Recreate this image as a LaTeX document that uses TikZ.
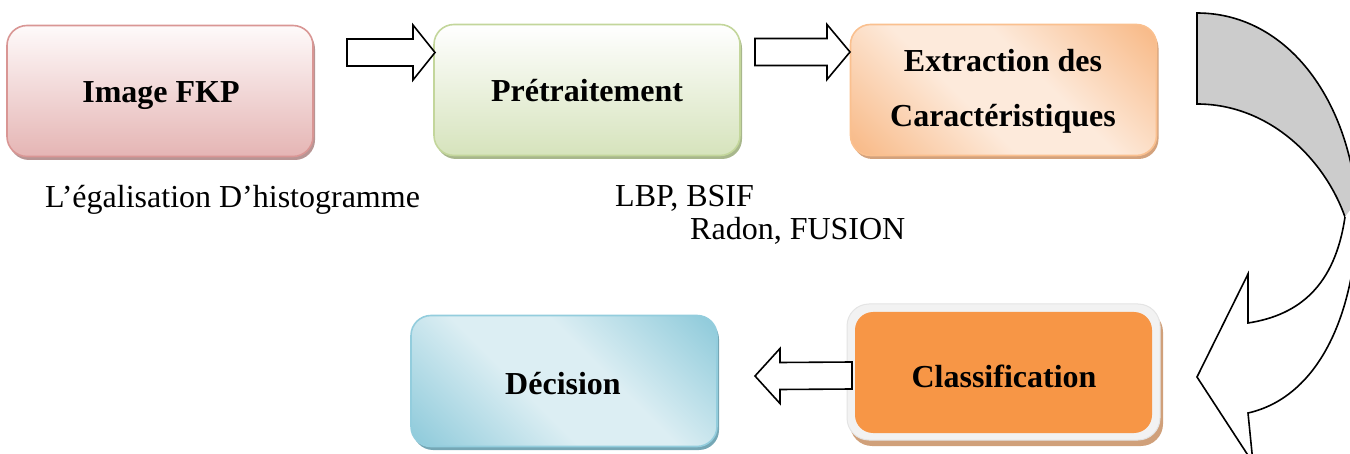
\documentclass[tikz,border=0pt]{standalone}
\usepackage{fontspec}
\setmainfont{Liberation Serif}
\usetikzlibrary{shadows,calc}
\definecolor{pinkB}{HTML}{D99694}
\definecolor{pinkT}{HTML}{FEFAFA}
\definecolor{pinkD}{HTML}{E5B5B4}
\definecolor{pinkS}{HTML}{B89594}
\definecolor{grnB}{HTML}{C3D69B}
\definecolor{grnT}{HTML}{FFFFFF}
\definecolor{grnD}{HTML}{D6E3BC}
\definecolor{grnS}{HTML}{A8B78C}
\definecolor{orgB}{HTML}{FAC08F}
\definecolor{orgC}{HTML}{F8BA88}
\definecolor{orgM}{HTML}{FDEADB}
\definecolor{orgS}{HTML}{D3A27D}
\definecolor{bluB}{HTML}{93CDDD}
\definecolor{bluC}{HTML}{90CBDB}
\definecolor{bluM}{HTML}{DCEEF3}
\definecolor{bluS}{HTML}{75A7B5}
\definecolor{clsF}{HTML}{F79646}
\definecolor{clsR}{HTML}{F2F2F2}
\definecolor{clsE}{HTML}{E4E4E4}
\definecolor{clsS}{HTML}{D0A07A}
\definecolor{grayA}{HTML}{CCCCCC}
\pgfdeclareverticalshading{diagorg}{100bp}{color(0bp)=(orgC); color(33bp)=(orgC); color(46bp)=(orgM); color(54bp)=(orgM); color(67bp)=(orgC); color(100bp)=(orgC)}
\pgfdeclareverticalshading{diagblu}{100bp}{color(0bp)=(bluC); color(33bp)=(bluC); color(46bp)=(bluM); color(54bp)=(bluM); color(67bp)=(bluC); color(100bp)=(bluC)}
\begin{document}
\begin{tikzpicture}[x=1pt,y=-1pt,
  box/.style={rounded corners=20pt, minimum width=306pt, minimum height=131pt, line width=1.6pt, inner sep=0pt},
  shad/.style={drop shadow={shadow xshift=2pt, shadow yshift=-3.5pt, fill=#1, opacity=1}},
  diagfill/.style={path picture={\shade[shading=#1, shading angle=-45]
      ($(path picture bounding box.center)+(-218,-218)$) rectangle ++(436,436);}},
  lbl/.style={font=\fontsize{32}{38}\selectfont\bfseries, anchor=base, inner sep=0pt},
  note/.style={font=\fontsize{32}{38}\selectfont, anchor=base west, inner sep=0pt},
  blk/.style={draw=black, fill=white, line width=1.6pt, line join=miter},
  curv/.style={draw=black, line width=1.6pt, line join=miter}]
\useasboundingbox (0,0) rectangle (1350,454);

% boxes
\node[box, draw=pinkB, top color=pinkT, bottom color=pinkD, shad=pinkS] (b1) at (160,91) {};
\node[box, draw=grnB, top color=grnT, bottom color=grnD, shad=grnS] (b2) at (587,90) {};
\node[box, draw=orgB, fill=orgM, diagfill=diagorg, shad=orgS] (b3) at (1003.5,90) {};
\node[box, draw=bluB, fill=bluM, diagfill=diagblu, shad=bluS] (b4) at (564,381) {};
\node[rounded corners=22pt, minimum width=313pt, minimum height=136pt, inner sep=0pt, draw=clsE, line width=1pt, fill=clsR,
  drop shadow={shadow xshift=3pt, shadow yshift=-6pt, fill=clsS, opacity=1}] (b5f) at (1003.5,372) {};
\node[rounded corners=18pt, minimum width=297pt, minimum height=121pt, inner sep=0pt, fill=clsF] (b5) at (1003.5,372.5) {};

% box texts
\node[lbl] (t1) at (161,103) {Image FKP};
\node[lbl] (t2) at (587,102) {Prétraitement};
\node[lbl] (t3a) at (1003,72) {Extraction des};
\node[lbl] (t3b) at (1003,127) {Caractéristiques};
\node[lbl] (t4) at (563,395) {Décision};
\node[lbl] (t5) at (1004,388) {Classification};

% notes
\node[note] (n1) at (45,208) {L’égalisation D’histogramme};
\node[note] (n2) at (615,207) {LBP, BSIF};
\node[note] (n3) at (690,240) {Radon, FUSION};

% block arrows
\coordinate (a1s) at (347,52.5);
\coordinate (a1e) at (435,52.5);
\draw[blk] ($(a1s)+(0,-13.5)$) -- ($(a1e)+(-22,-13.5)$) -- ($(a1e)+(-22,-27.5)$) -- (a1e)
  -- ($(a1e)+(-22,27.5)$) -- ($(a1e)+(-22,13.5)$) -- ($(a1s)+(0,13.5)$) -- cycle;
\coordinate (a2s) at (755,52);
\coordinate (a2e) at (850,52);
\draw[blk] ($(a2s)+(0,-13.5)$) -- ($(a2e)+(-23,-13.5)$) -- ($(a2e)+(-23,-27.5)$) -- (a2e)
  -- ($(a2e)+(-23,27.5)$) -- ($(a2e)+(-23,13.5)$) -- ($(a2s)+(0,13.5)$) -- cycle;
\coordinate (a3s) at (852,375.5);
\coordinate (a3e) at (755,376);
\draw[blk] ($(a3s)+(0,-13.5)$) -- ($(a3e)+(25,-13.5)$) -- ($(a3e)+(25,-27.5)$) -- (a3e)
  -- ($(a3e)+(25,27.5)$) -- ($(a3e)+(25,13.5)$) -- ($(a3s)+(0,13.5)$) -- cycle;

% curved arrow
\begin{scope}
\clip (0,0) rectangle (1350,454);
\coordinate (c1) at (1197,13);
\coordinate (c2) at (1197,104);
\coordinate (c3) at (1345,217);
\coordinate (c4) at (1358,200);
\coordinate (c5) at (1248,323);
\coordinate (c6) at (1248,274);
\coordinate (c7) at (1197,377);
\coordinate (c8) at (1253,463);
\coordinate (c9) at (1248,413);
\path[curv, fill=grayA] (c1) .. controls (1292,13) and (1358,110) .. (1358,230)
  -- (c3) .. controls (1325,160) and (1270,104) .. (c2) -- cycle;
\fill[white] (c3) .. controls (1335,285) and (1300,315) .. (c5) -- (c6) -- (c7) -- (c8) -- (c9)
  .. controls (1315,398) and (1358,320) .. (c4) -- cycle;
\draw[curv] (c3) .. controls (1335,285) and (1300,315) .. (c5) -- (c6) -- (c7) -- (c8) -- (c9)
  .. controls (1315,398) and (1358,320) .. (c4);
\end{scope}
\end{tikzpicture}
\end{document}
